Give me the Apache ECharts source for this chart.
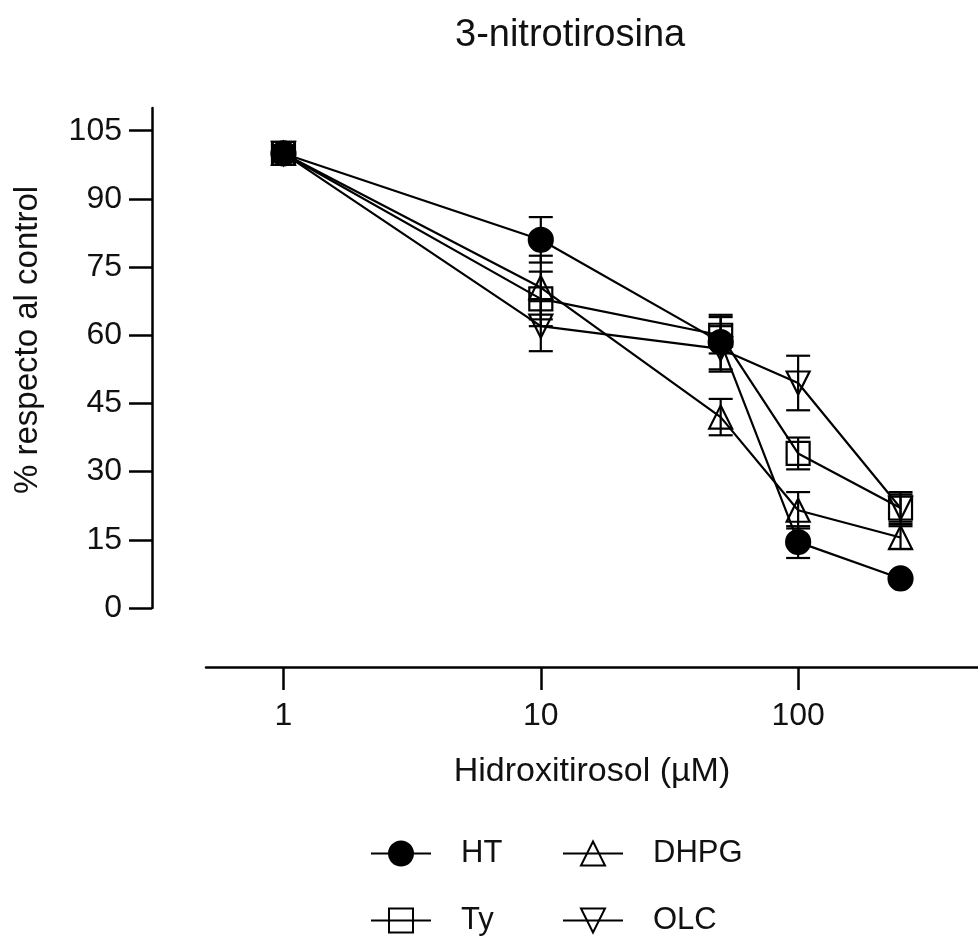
<!DOCTYPE html>
<html>
<head>
<meta charset="utf-8">
<title>3-nitrotirosina</title>
<script src="https://cdn.jsdelivr.net/npm/echarts@6/dist/echarts.min.js"></script>
<style>
  html, body { margin: 0; padding: 0; background: #fff; }
  #chart { width: 978px; height: 939px; }
</style>
</head>
<body>
<div id="chart"></div>
<script>
// doses (µM) on a log axis
var doses = [1, 10, 50, 100, 250];

// mean % of control per compound
var htMean   = [100, 81, 58.5, 14.5, 6.5];
var dhpgMean = [100, 70.5, 42, 21.5, 15.5];
var tyMean   = [100, 68, 60, 34, 22];
var olcMean  = [100, 62, 57, 49.5, 22];

// error bar half-widths
var htErr   = [0, 5, 6, 3.5, 0];
var dhpgErr = [0, 7, 4, 4, 2.5];
var tyErr   = [0, 6, 4, 3.5, 3.5];
var olcErr  = [0, 5.5, 5, 6, 3];

var xTicks = [1, 10, 100];
var yTicks = [0, 15, 30, 45, 60, 75, 90, 105];

var FONT = 'Liberation Sans';
var INK = '#111';

var myChart = echarts.init(document.getElementById('chart'));

function pairs(means) {
    return doses.map(function (d, i) { return [d, means[i]]; });
}

function lineSeries(name, means, symbol, filled, rotate) {
    return {
        name: name,
        type: 'line',
        data: pairs(means),
        symbol: symbol,
        symbolSize: symbol === 'circle' ? 24 : 23,
        symbolRotate: rotate || 0,
        showAllSymbol: true,
        lineStyle: { color: '#000', width: 2.2 },
        itemStyle: {
            color: filled ? '#000' : 'rgba(0,0,0,0)',
            borderColor: '#000',
            borderWidth: 2.2
        },
        z: 3,
        animation: false
    };
}

function errorSeries(name, means, errs) {
    return {
        name: name,
        type: 'custom',
        data: doses.map(function (d, i) { return [d, means[i] - errs[i], means[i] + errs[i]]; }),
        encode: { x: 0, y: [1, 2] },
        renderItem: function (params, api) {
            if (api.value(1) === api.value(2)) return null;
            var x = api.value(0);
            var lo = api.coord([x, api.value(1)]);
            var hi = api.coord([x, api.value(2)]);
            var w = 12;
            var st = { stroke: '#000', lineWidth: 2.2 };
            return {
                type: 'group',
                children: [
                    { type: 'line', shape: { x1: lo[0], y1: lo[1], x2: hi[0], y2: hi[1] }, style: st },
                    { type: 'line', shape: { x1: lo[0] - w, y1: lo[1], x2: lo[0] + w, y2: lo[1] }, style: st },
                    { type: 'line', shape: { x1: hi[0] - w, y1: hi[1], x2: hi[0] + w, y2: hi[1] }, style: st }
                ]
            };
        },
        z: 2,
        animation: false
    };
}

function legendAt(name, left, top) {
    return {
        data: [name],
        left: left,
        top: top,
        padding: 0,
        itemWidth: 60,
        itemHeight: 30,
        selectedMode: false,
        textStyle: { fontSize: 31, color: INK, fontFamily: FONT, padding: [0, 0, 0, 25] }
    };
}

myChart.setOption({
    backgroundColor: '#fff',
    textStyle: { fontFamily: FONT },
    title: {
        text: '3-nitrotirosina',
        left: 450,
        top: 12,
        textStyle: { fontSize: 38, fontWeight: 'normal', color: INK, fontFamily: FONT }
    },
    legend: [
        legendAt('HT', 370, 838),
        legendAt('DHPG', 562, 838),
        legendAt('Ty', 370, 905),
        legendAt('OLC', 562, 905)
    ],
    grid: { left: 206, top: 108, bottom: 331, width: 784 },
    xAxis: {
        type: 'log',
        logBase: 10,
        min: 0.5,
        max: 500,
        offset: 59,
        name: 'Hidroxitirosol (µM)',
        nameLocation: 'middle',
        nameGap: 88,
        nameTextStyle: { fontSize: 34, color: INK, fontFamily: FONT },
        axisLine: { onZero: false, lineStyle: { color: '#000', width: 2.5 } },
        axisTick: { length: 23, customValues: xTicks, lineStyle: { color: '#000', width: 2.5 } },
        axisLabel: { customValues: xTicks, fontSize: 32, margin: 33, color: INK, fontFamily: FONT },
        splitLine: { show: false },
        minorTick: { show: false }
    },
    yAxis: {
        type: 'value',
        min: 0,
        max: 110,
        interval: 15,
        offset: 54,
        name: '% respecto al control',
        nameLocation: 'middle',
        nameGap: 108,
        nameTextStyle: { fontSize: 33, color: INK, fontFamily: FONT, padding: [0, 0, 0, 36] },
        axisLine: { show: true, onZero: false, lineStyle: { color: '#000', width: 2.5 } },
        axisTick: { show: true, length: 23, customValues: yTicks, lineStyle: { color: '#000', width: 2.5 } },
        axisLabel: { customValues: yTicks, fontSize: 32, margin: 30, color: INK, fontFamily: FONT },
        splitLine: { show: false }
    },
    series: [
        lineSeries('HT', htMean, 'circle', true),
        lineSeries('DHPG', dhpgMean, 'triangle', false),
        lineSeries('Ty', tyMean, 'rect', false),
        lineSeries('OLC', olcMean, 'triangle', false, 180),
        errorSeries('HT', htMean, htErr),
        errorSeries('DHPG', dhpgMean, dhpgErr),
        errorSeries('Ty', tyMean, tyErr),
        errorSeries('OLC', olcMean, olcErr)
    ]
});
</script>
</body>
</html>
